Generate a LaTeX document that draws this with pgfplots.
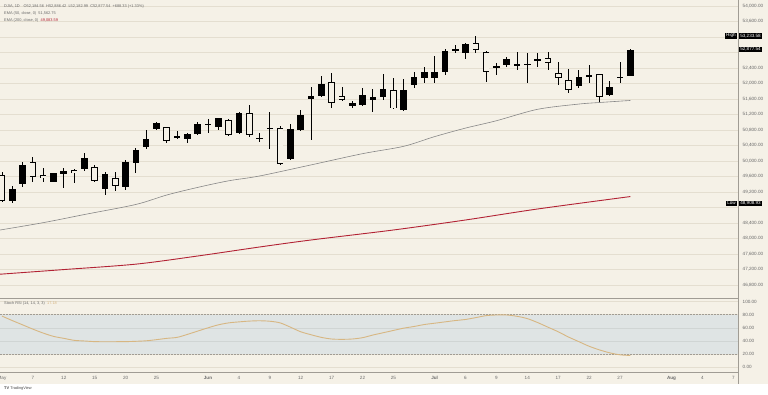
\documentclass[border=0pt]{standalone}
\usepackage{pgfplots}
\pgfplotsset{compat=1.18}
\usepackage{pgfplotstable}
\usepackage{fontspec}
\setmainfont{Liberation Sans}

\definecolor{bg}{RGB}{245,241,231}
\definecolor{gridc}{RGB}{228,222,208}
\definecolor{axc}{RGB}{160,156,148}
\definecolor{txt}{RGB}{105,105,105}
\definecolor{ema50c}{RGB}{135,135,135}
\definecolor{ema200c}{RGB}{178,34,52}
\definecolor{stochc}{RGB}{215,182,130}
\definecolor{bandc}{RGB}{223,228,228}
\definecolor{bandgrid}{RGB}{208,213,212}

% up candles (close > open): filled black
\pgfplotstableread{
i o h l c
1 48977 49356 48908.93 49279
2 49400 49983 49322 49898
5 49467 49699 49451 49684
6 49658 49813 49297 49751
8 49782 50200 49756 50066
10 49271 49725 49124 49666
12 49338 50027 49253 49983
13 49942 50329 49684 50285
14 50355 50801 50323 50569
15 50819 51000 50793 50974
17 50587 50783 50561 50654
18 50561 50716 50458 50690
19 50698 51015 50672 50956
20 50930 51077 50716 50956
21 50886 51118 50801 51103
23 50716 51273 50698 51247
25 50569 50723 50491 50607
26 50840 51258 50303 50847
28 50045 50956 50027 50819
29 50801 51317 50775 51188
30 51593 51918 50543 51678
31 51678 52202 51652 51988
34 51428 51557 51361 51505
35 51446 51877 51420 51704
36 51575 51851 51273 51645
37 51645 52246 51575 51851
39 51317 52117 51291 51833
40 51962 52305 51877 52161
41 52135 52434 52006 52290
42 52150 52710 52006 52300
43 52305 52883 52220 52839
44 52870 52994 52780 52883
45 52795 53053 52625 53020
48 52408 52537 52220 52460
49 52478 52677 52434 52625
50 52460 52821 52349 52496
51 52478 52780 52006 52511
52 52599 52795 52434 52633
56 51936 52349 51877 52176
57 52194 52478 52006 52220
59 51704 52073 51678 51918
60 52150 52563 52006 52176
61 52184.56 52886.42 52182.99 52877.54
}\upc

% down candles (close < open): hollow
\pgfplotstableread{
i o h l c
0 49640 49717 48956 48982
3 49968 50112 49467 49581
4 49632 49813 49467 49562
7 49769 49795 49426 49691
9 49854 49898 49467 49498
11 49570 49725 49235 49364
16 50871 50886 50458 50525
22 51059 51085 50646 50672
24 51247 51446 50613 50672
27 50845 50904 49898 49924
32 52032 52264 51376 51490
33 51678 51918 51549 51575
38 51833 52135 51343 51361
46 53038 53233.58 52780 52865
47 52821 52839 52047 52305
53 52651 52821 52349 52522
54 52264 52563 51962 52135
55 52091 52367 51763 51833
58 52238 52246 51531 51660
}\dnc

\newcommand\fs{\fontsize{4.6}{5.2}\selectfont}
\newcommand\fst{\fontsize{3.9}{4.4}\selectfont}

\pgfplotsset{
  candle/.style={draw=none, mark=none, forget plot,
    error bars/.cd, y dir=both, y explicit, error mark=none,
    error bar style={#1}},
}

\begin{document}
\begin{tikzpicture}
\path[use as bounding box] (0pt,0pt) rectangle (768pt,394pt);
\fill[bg] (0pt,0pt) rectangle (768pt,394pt);
\fill[white] (0pt,0pt) rectangle (768pt,10pt);

\begin{axis}[
  at={(0pt,96pt)}, anchor=south west, scale only axis,
  width=738pt, height=298pt,
  xmin=-0.194, xmax=71.456, ymin=46466.4, ymax=54154.8,
  axis x line*=bottom, axis y line*=right,
  axis line style={axc, line width=0.6pt},
  xtick=\empty,
  ytick={46800,47200,47600,48000,48400,49200,49600,50000,50400,50800,51200,51600,52000,52400,53600,54000},
  minor ytick={48800,52800,53200},
  scaled y ticks=false,
  ymajorgrids, yminorgrids,
  major grid style={gridc, line width=0.6pt},
  minor grid style={gridc, line width=0.6pt},
  major tick length=0pt, minor tick length=0pt,
  yticklabel style={font=\fs, text=txt, xshift=1.2pt},
  /pgf/number format/fixed,
  /pgf/number format/fixed zerofill,
  /pgf/number format/precision=2,
  /pgf/number format/1000 sep={,},
  /pgf/number format/assume math mode=true,
  clip mode=individual,
]
% EMA 200
\addplot[ema200c, line width=0.9pt, smooth] coordinates {
(-0.2,47080) (6,47200) (13,47340) (19,47550) (25,47782) (30,47963)
(38,48221) (45,48479) (52,48763) (61,49083.59)};
% EMA 50
\addplot[ema50c, line width=0.6pt, smooth] coordinates {
(-0.2,48220) (4,48410) (8,48620) (13,48880) (16,49124) (19,49320)
(22,49490) (25,49614) (30,49900) (35,50190) (39,50380) (42,50630)
(45,50850) (48,51040) (52,51335) (56,51470) (58,51510) (61,51562.75)};

% wicks
\addplot[candle={draw=black, line width=0.8pt}]
  table[x=i, y expr={(\thisrow{h}+\thisrow{l})/2},
        y error expr={(\thisrow{h}-\thisrow{l})/2}] {\upc};
\addplot[candle={draw=black, line width=0.8pt}]
  table[x=i, y expr={(\thisrow{h}+\thisrow{l})/2},
        y error expr={(\thisrow{h}-\thisrow{l})/2}] {\dnc};
% up bodies
\addplot[candle={draw=black, line width=6.6pt}]
  table[x=i, y expr={(\thisrow{o}+\thisrow{c})/2},
        y error expr={max(abs(\thisrow{c}-\thisrow{o})/2,13)}] {\upc};
% down bodies: outline + hollow interior
\addplot[candle={draw=black, line width=6.6pt}]
  table[x=i, y expr={(\thisrow{o}+\thisrow{c})/2},
        y error expr={max(abs(\thisrow{c}-\thisrow{o})/2,13)}] {\dnc};
\addplot[candle={draw=bg, line width=5.0pt}]
  table[x=i, y expr={(\thisrow{o}+\thisrow{c})/2},
        y error expr={max(abs(\thisrow{c}-\thisrow{o})/2-21,0)}] {\dnc};

\coordinate (hi) at (axis cs:71.456,53233.58);
\coordinate (cl) at (axis cs:71.456,52877.54);
\coordinate (lo) at (axis cs:71.456,48908.93);
\end{axis}

\begin{axis}[
  at={(0pt,21.3pt)}, anchor=south west, scale only axis,
  width=738pt, height=74.7pt,
  xmin=-0.194, xmax=71.456, ymin=-8.2, ymax=105.3,
  axis x line*=bottom, axis y line*=right,
  axis line style={axc, line width=0.6pt},
  xtick={0,3,6,9,12,15,20,23,26,29,32,35,38,42,45,48,51,54,57,60,65,68,71},
  xticklabels={May,7,12,15,20,25,\textbf{Jun},4,9,12,17,22,25,\textbf{Jul},6,9,14,17,22,27,\textbf{Aug},4,7},
  ytick={0,20,...,100},
  ymajorgrids, grid style={gridc, line width=0.6pt},
  major tick length=0pt,
  xticklabel style={font=\fs, text=txt},
  yticklabel style={font=\fs, text=txt, xshift=1.2pt},
  /pgf/number format/fixed,
  /pgf/number format/fixed zerofill,
  /pgf/number format/precision=2,
  /pgf/number format/assume math mode=true,
  clip mode=individual,
]
\fill[bandc] (axis cs:-0.194,20) rectangle (axis cs:71.456,80);
\draw[bandgrid, line width=0.5pt] (axis cs:-0.194,40) -- (axis cs:71.456,40);
\draw[bandgrid, line width=0.5pt] (axis cs:-0.194,60) -- (axis cs:71.456,60);
\draw[axc, line width=0.5pt, dash pattern=on 1.5pt off 1.5pt] (axis cs:-0.194,20) -- (axis cs:71.456,20);
\draw[axc, line width=0.5pt, dash pattern=on 1.5pt off 1.5pt] (axis cs:-0.194,80) -- (axis cs:71.456,80);
\addplot[stochc, line width=0.9pt, smooth] coordinates {
(0,77.8) (1,71) (2,64.5) (3,58) (4,52) (5,47) (6,44) (7,41) (8,40) (9,39)
(10,38.9) (11,38.9) (12,39) (13,39.5) (14,40.3) (15,42) (16,44) (17,45.5)
(18,50) (19,55) (20,60) (21,64.5) (22,67.5) (23,69) (24,70.2) (25,70.7)
(26,70) (27,67.5) (28,61) (29,54) (30,49.5) (31,45.5) (32,43) (33,42.5)
(34,43) (35,45) (36,49) (37,52.5) (38,56) (39,59.5) (40,62) (41,65)
(42,67) (43,69) (44,71) (45,72.7) (46,75.5) (47,78.5) (48,79.5) (49,79.5)
(50,77.5) (51,74) (52,68) (53,61) (54,54) (55,46) (56,39) (57,32)
(58,26.5) (59,22) (60,19) (61,18)};
\end{axis}

\draw[axc, line width=0.6pt] (738pt,394pt) -- (738pt,10pt);

% price labels on the right
\node[fill=black, text=white, font=\fs, inner xsep=1.3pt, inner ysep=0.9pt, anchor=west] at ([xshift=0.8pt]hi) {53,233.58};
\node[fill=black, text=white, font=\fs, inner xsep=1.3pt, inner ysep=0.9pt, anchor=east] at ([xshift=-0.8pt]hi) {High};
\node[fill=black, text=white, font=\fs, inner xsep=1.3pt, inner ysep=0.9pt, anchor=west] at ([xshift=0.8pt]cl) {52,877.54};
\node[fill=black, text=white, font=\fs, inner xsep=1.3pt, inner ysep=0.9pt, anchor=west] at ([xshift=0.8pt]lo) {48,908.93};
\node[fill=black, text=white, font=\fs, inner xsep=1.3pt, inner ysep=0.9pt, anchor=east] at ([xshift=-0.8pt]lo) {Low};

% legend texts
\node[anchor=west, font=\fst, text=txt, inner sep=0pt] at (4pt,388pt) {DJIA, 1D\quad O52,184.56\ \ H52,886.42\ \ L52,182.99\ \ C52,877.54\ \ +688.33 (+1.33\%)};
\node[anchor=west, font=\fst, text=txt, inner sep=0pt] at (4pt,381pt) {EMA (50, close, 0)\ \ 51,562.75};
\node[anchor=west, font=\fst, text=txt, inner sep=0pt] at (4pt,374pt) {EMA (200, close, 0)\ \ \textcolor{ema200c}{49,083.59}};
\node[anchor=west, font=\fst, text=txt, inner sep=0pt] at (4pt,91pt) {Stoch RSI (14, 14, 3, 3)\ \ \textcolor{stochc}{17.18}};
\node[anchor=west, font=\fst, text=black!70, inner sep=0pt] at (4pt,5.5pt) {\textbf{TV} TradingView};
\end{tikzpicture}
\end{document}
